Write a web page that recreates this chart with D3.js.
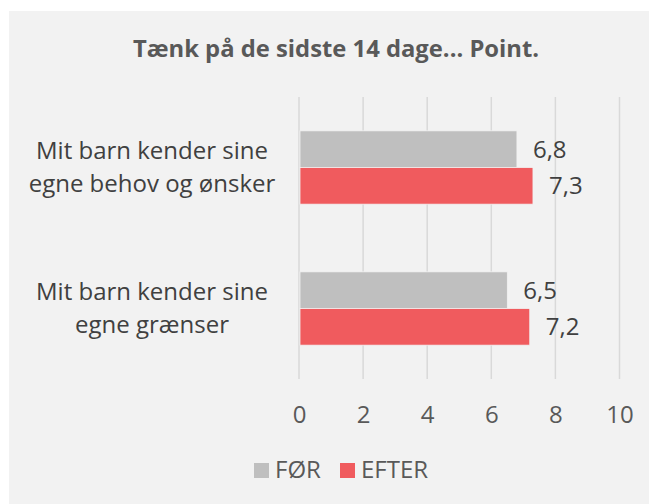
<!DOCTYPE html>
<html>
<head>
<meta charset="utf-8">
<script src="https://cdn.jsdelivr.net/npm/d3@7"></script>
<style>
  body { margin: 0; background: #fff; }
  text { font-family: "Open Sans", sans-serif; }
</style>
</head>
<body>
<svg id="chart" width="649" height="504"></svg>
<script>
'use strict';

let title = "Tænk på de sidste 14 dage... Point."
let categories = [
    ["Mit barn kender sine", "egne behov og ønsker"],
    ["Mit barn kender sine", "egne grænser"]
]
let seriesNames = ["FØR", "EFTER"]
let beforeValues = [6.8, 6.5]
let afterValues = [7.3, 7.2]
let tickValues = [0, 2, 4, 6, 8, 10]
let colors = ["#bfbfbf", "#f05b5e"]

let svg = d3.select("#chart")

svg.append("rect")
    .attr("x", 9).attr("y", 11)
    .attr("width", 640).attr("height", 493)
    .attr("fill", "#f2f2f2")

svg.append("text")
    .attr("x", 336).attr("y", 57)
    .attr("text-anchor", "middle")
    .attr("font-size", 23.8)
    .attr("font-weight", "bold")
    .attr("fill", "#595959")
    .text(title)

let x = d3.scaleLinear().domain([0, 10]).range([299, 619.5])
let y = d3.scaleBand()
    .domain(d3.range(categories.length))
    .range([97, 379])
    .paddingInner(0.48)
    .paddingOuter(0.24)
let ySub = d3.scaleBand()
    .domain(d3.range(seriesNames.length))
    .range([0, y.bandwidth()])

// gridlines
svg.append("g")
    .selectAll("line")
    .data(tickValues)
    .enter().append("line")
    .attr("x1", d => x(d)).attr("x2", d => x(d))
    .attr("y1", 97).attr("y2", 379)
    .attr("stroke", "#d9d9d9")
    .attr("stroke-width", 1.5)

// tick labels
let axis = d3.axisBottom(x).tickValues(tickValues).tickSize(0).tickPadding(0)
let axisG = svg.append("g").attr("transform", "translate(0,406)").call(axis)
axisG.select(".domain").remove()
axisG.selectAll("text")
    .attr("font-family", "Open Sans, sans-serif")
    .attr("font-size", 24)
    .attr("fill", "#595959")
    .attr("dy", "0.71em")

let rows = categories.map((c, i) => ({ label: c, values: [beforeValues[i], afterValues[i]] }))

let group = svg.append("g")
    .selectAll("g")
    .data(rows)
    .enter().append("g")
    .attr("transform", (d, i) => "translate(0," + y(i) + ")")

group.selectAll("rect")
    .data(d => d.values)
    .enter().append("rect")
    .attr("x", x(0) + 1)
    .attr("y", (d, j) => ySub(j))
    .attr("width", d => x(d) - x(0) - 1)
    .attr("height", ySub.bandwidth())
    .attr("fill", (d, j) => colors[j])
    .attr("stroke", "#f2f2f2")
    .attr("stroke-width", 0.8)

group.selectAll("text.value")
    .data(d => d.values)
    .enter().append("text")
    .attr("class", "value")
    .attr("x", d => x(d) + 16)
    .attr("y", (d, j) => ySub(j) + ySub.bandwidth() / 2)
    .attr("dy", "0.36em")
    .attr("font-size", 24)
    .attr("fill", "#404040")
    .text(d => d3.format(".1f")(d).replace(".", ","))

group.each(function(d) {
    let t = d3.select(this).append("text")
        .attr("text-anchor", "middle")
        .attr("font-size", 24)
        .attr("fill", "#404040")
    d.label.forEach((line, k) => {
        t.append("tspan")
            .attr("x", 152)
            .attr("y", y.bandwidth() / 2 - 8.5 + k * 33)
            .text(line)
    })
})

// legend
let legend = svg.append("g")
    .selectAll("g")
    .data(seriesNames)
    .enter().append("g")
    .attr("transform", (d, i) => "translate(" + [254, 340][i] + ",463)")

legend.append("rect")
    .attr("width", 15).attr("height", 15)
    .attr("fill", (d, i) => colors[i])

legend.append("text")
    .attr("x", 21).attr("y", 15)
    .attr("font-size", 24)
    .attr("fill", "#595959")
    .text(d => d)
</script>
</body>
</html>
